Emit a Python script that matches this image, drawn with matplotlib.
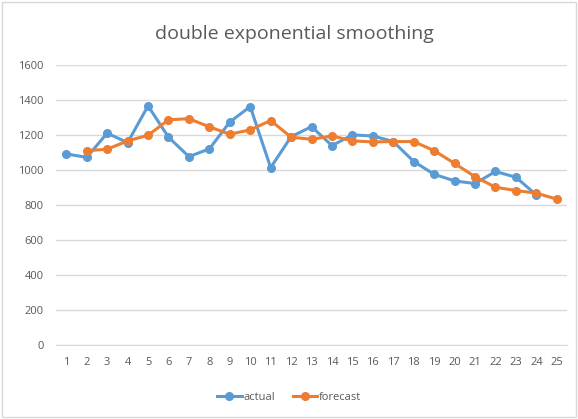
import matplotlib.pyplot as plt
from matplotlib.patches import Rectangle

periods = list(range(1, 26))
actual = [1091, 1072, 1210, 1156, 1366, 1187, 1076, 1120, 1274, 1362, 1013, 1190,
          1247, 1139, 1200, 1194, 1162, 1048, 975, 937, 922, 991, 958, 857]
forecast = [1110, 1118, 1166, 1198, 1286, 1293, 1246, 1204, 1229, 1282, 1187, 1175,
            1194, 1166, 1160, 1162, 1162, 1110, 1037, 961, 901, 882, 867, 833]

plt.rcParams['font.family'] = ['Open Sans', 'DejaVu Sans']
text_col = '#595959'

fig = plt.figure(figsize=(5.78, 4.19), dpi=100)
ax = fig.add_axes([0.097, 0.177, 0.884, 0.668])

ax.plot(periods[:len(actual)], actual, color='#5B9BD5', lw=2.2, marker='o', ms=5.5, label='actual')
ax.plot(periods[1:1 + len(forecast)], forecast, color='#ED7D31', lw=2.2, marker='o', ms=5.5, label='forecast')

ax.set_xlim(0.5, 25.5)
ax.set_ylim(0, 1600)
ax.set_yticks(range(0, 1601, 200))
ax.set_xticks(periods)
ax.grid(axis='y', color='#D9D9D9', lw=1)
ax.set_axisbelow(True)
for s in ['top', 'right', 'left']:
    ax.spines[s].set_visible(False)
ax.spines['bottom'].set_color('#D9D9D9')
ax.tick_params(length=0, labelsize=8, colors=text_col, pad=9)

fig.text(0.51, 0.92, 'double exponential smoothing', ha='center', va='center',
         fontsize=14, color=text_col)
fig.legend(loc='center', bbox_to_anchor=(0.5, 0.052), ncol=2, frameon=False,
           fontsize=8, labelcolor=text_col, handlelength=2.2, columnspacing=1.6,
           handletextpad=0.15)

fig.patches.append(Rectangle((0.004, 0.004), 0.992, 0.992, transform=fig.transFigure,
                             fill=False, edgecolor='#D9D9D9', lw=1))

fig.savefig('out.png', dpi=100)
